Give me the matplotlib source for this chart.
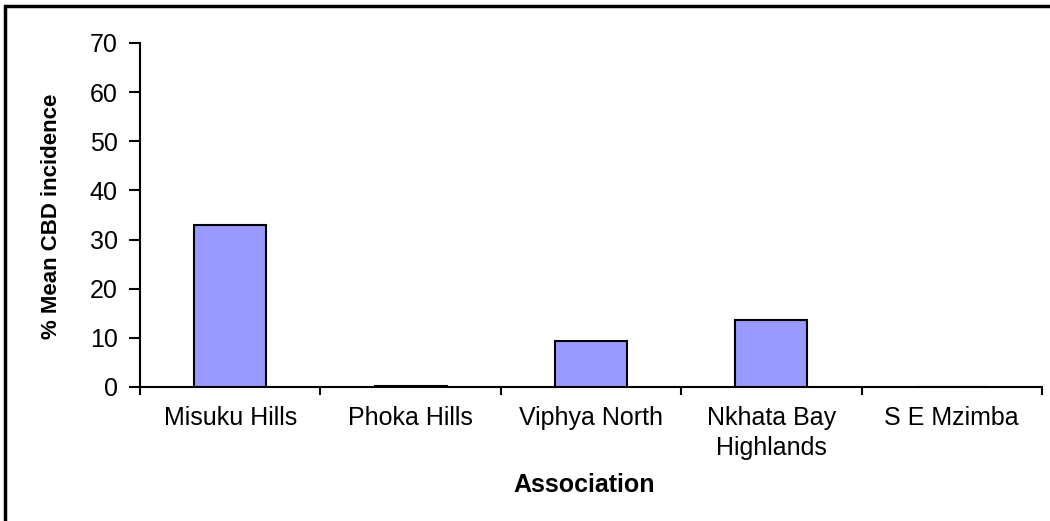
import matplotlib
matplotlib.use("Agg")
import matplotlib.pyplot as plt
from matplotlib.patches import Rectangle
import numpy as np

categories = ["Misuku Hills", "Phoka Hills", "Viphya North", "Nkhata Bay\nHighlands", "S E Mzimba"]
values = [33.0, 0.3, 9.4, 13.6, 0.0]
yticks = [0, 10, 20, 30, 40, 50, 60, 70]

plt.rcParams['font.family'] = ['Liberation Sans', 'DejaVu Sans']

W, H = 1050, 521
fig = plt.figure(figsize=(W / 100, H / 100), dpi=100)
fig.patch.set_facecolor("white")
ax = fig.add_axes([140 / W, 1 - 387 / H, (1042 - 140) / W, (387 - 43) / H])

x = np.arange(len(categories))
ax.bar(x, values, width=0.4, color="#9999FF", edgecolor="black", linewidth=1.5, zorder=3)

ax.set_xlim(-0.5, len(categories) - 0.5)
ax.set_ylim(0, 70)
ax.set_yticks(yticks)
ax.set_yticklabels([str(v) for v in yticks], fontsize=18)

# category boundary ticks (major) and labels at centers (minor)
ax.set_xticks(np.arange(len(categories) + 1) - 0.5)
ax.set_xticklabels([])
ax.set_xticks(x, minor=True)
ax.set_xticklabels(categories, minor=True, fontsize=18, linespacing=1.3)
ax.tick_params(axis="x", which="major", direction="out", length=6, width=1.5)
ax.tick_params(axis="x", which="minor", length=0, pad=14)
ax.tick_params(axis="y", direction="out", length=8, width=1.5, pad=8)

for s in ["top", "right"]:
    ax.spines[s].set_visible(False)
for s in ["left", "bottom"]:
    ax.spines[s].set_linewidth(1.5)

fig.text(52 / W, 1 - 216 / H, "% Mean CBD incidence", rotation=90, ha="center", va="center",
         fontsize=16, fontweight="bold")
fig.text(584 / W, 1 - 485 / H, "Association", ha="center", va="center",
         fontsize=18, fontweight="bold")

# outer border (top and left visible, right/bottom cut off by the image edge)
fig.patches.append(Rectangle((5 / W, -0.05), 1.1, 1 - 6 / H + 0.05, transform=fig.transFigure,
                             fill=False, edgecolor="black", linewidth=2.5, clip_on=False))

fig.savefig("out.png", dpi=100)
